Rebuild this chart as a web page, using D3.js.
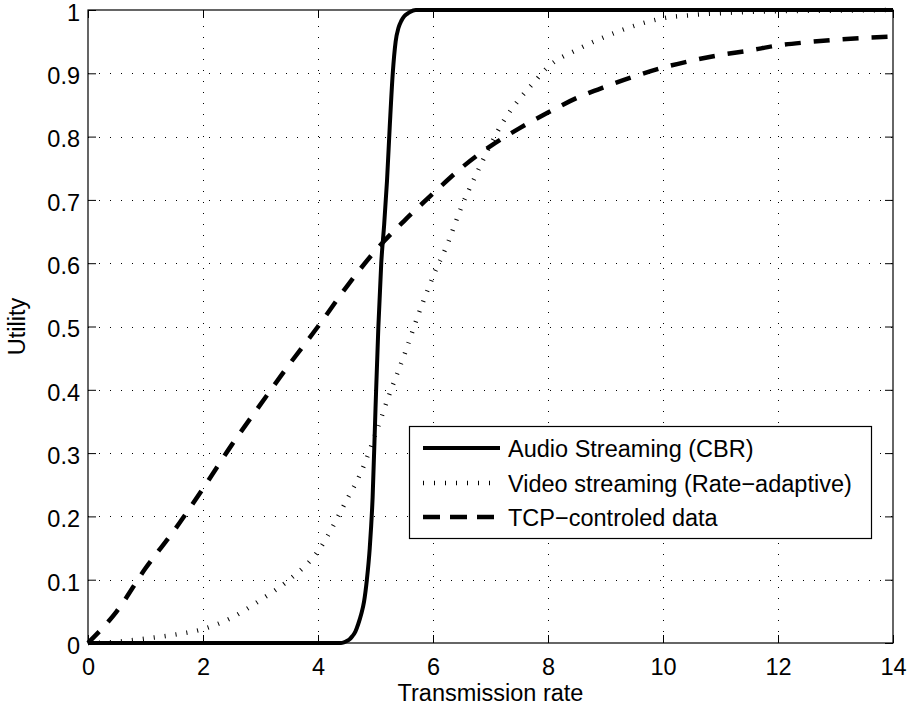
<!DOCTYPE html>
<html><head><meta charset="utf-8">
<script src="https://cdn.jsdelivr.net/npm/d3@7"></script>
<style>
body{margin:0;background:#fff;}
text{font-family:"Liberation Sans",Arial,Helvetica,sans-serif;fill:#000;}
</style></head>
<body>
<svg id="chart" width="910" height="711"></svg>
<script>
// ---- data ----
const audioX = [0, 4.4, 4.45, 4.5, 4.55, 4.6, 4.65, 4.7, 4.75, 4.8, 4.85, 4.9, 4.95, 5.0, 5.05, 5.1, 5.15, 5.2, 5.25, 5.3, 5.35, 5.4, 5.45, 5.5, 5.55, 5.6, 5.7, 14];
const audioY = [0, 0, 0.001, 0.003, 0.006, 0.011, 0.018, 0.03, 0.045, 0.065, 0.1, 0.15, 0.23, 0.37, 0.5, 0.6, 0.66, 0.73, 0.82, 0.9, 0.95, 0.972, 0.983, 0.99, 0.994, 0.997, 1.0, 1.0];

const videoX = [0, 0.5, 1, 1.5, 2, 2.5, 3, 3.5, 4, 4.5, 4.75, 5, 5.25, 5.5, 5.75, 6, 6.25, 6.5, 6.75, 7, 7.25, 7.5, 7.75, 8, 8.5, 9, 9.5, 10, 10.5, 11, 12, 13, 14];
const videoY = [0, 0.002, 0.007, 0.013, 0.022, 0.04, 0.068, 0.1, 0.145, 0.226, 0.27, 0.33, 0.395, 0.455, 0.52, 0.579, 0.63, 0.69, 0.74, 0.787, 0.828, 0.859, 0.885, 0.91, 0.937, 0.958, 0.975, 0.987, 0.992, 0.995, 0.998, 0.999, 1.0];

const tcpX = [0, 0.5, 1, 1.5, 2, 2.5, 3, 3.5, 4, 4.5, 5, 5.5, 6, 6.5, 7, 7.5, 8, 8.5, 9, 9.5, 10, 10.5, 11, 11.5, 12, 12.5, 13, 13.5, 14];
const tcpY = [0, 0.05, 0.118, 0.178, 0.244, 0.313, 0.377, 0.44, 0.5, 0.563, 0.62, 0.667, 0.71, 0.751, 0.785, 0.813, 0.838, 0.861, 0.879, 0.895, 0.909, 0.92, 0.929, 0.936, 0.944, 0.949, 0.953, 0.956, 0.958];

const xTicks = [0, 2, 4, 6, 8, 10, 12, 14];
const yTicks = [0, 0.1, 0.2, 0.3, 0.4, 0.5, 0.6, 0.7, 0.8, 0.9, 1];
const yTickLabels = ["0", "0.1", "0.2", "0.3", "0.4", "0.5", "0.6", "0.7", "0.8", "0.9", "1"];
const seriesNames = ["Audio Streaming (CBR)", "Video streaming (Rate\u2212adaptive)", "TCP\u2212controled data"];
const xLabel = "Transmission rate";
const yLabel = "Utility";

// ---- layout ----
const L = 88, R = 893, T = 10, B = 643;
const FS = 23.5;
const svg = d3.select("#chart");
const x = d3.scaleLinear().domain([0, 14]).range([L, R]);
const y = d3.scaleLinear().domain([0, 1]).range([B, T]);

const styles = [
  {w: 4, dash: null},
  {w: 4.5, dash: "1,10"},
  {w: 4.5, dash: "16,13"}
];

// grid
const grid = svg.append("g").attr("stroke", "#000").attr("stroke-width", 1).attr("stroke-dasharray", "1,10");
grid.selectAll("line.gx").data(xTicks.slice(1, -1)).join("line")
  .attr("x1", d => x(d) + 0.5).attr("x2", d => x(d) + 0.5).attr("y1", B).attr("y2", T);
grid.selectAll("line.gy").data(yTicks.slice(1, -1)).join("line")
  .attr("y1", d => Math.round(y(d)) + 0.5).attr("y2", d => Math.round(y(d)) + 0.5).attr("x1", L).attr("x2", R);

// axes with inward ticks
const tk = 8;
const axB = svg.append("g").attr("transform", `translate(0,${B})`)
  .call(d3.axisBottom(x).tickValues(xTicks).tickSize(-tk).tickPadding(15).tickFormat(d3.format("d")));
const axT = svg.append("g").attr("transform", `translate(0,${T})`)
  .call(d3.axisTop(x).tickValues(xTicks).tickSize(-tk).tickFormat(""));
const axL = svg.append("g").attr("transform", `translate(${L},0)`)
  .call(d3.axisLeft(y).tickValues(yTicks).tickSize(-tk).tickPadding(8).tickFormat((d, i) => yTickLabels[i]));
const axRt = svg.append("g").attr("transform", `translate(${R},0)`)
  .call(d3.axisRight(y).tickValues(yTicks).tickSize(-tk).tickFormat(""));
[axB, axT, axL, axRt].forEach(a => {
  a.select(".domain").remove();
  a.selectAll(".tick line").attr("stroke", "#000").attr("stroke-width", 1);
  a.selectAll("text").attr("font-size", FS).attr("font-family", "Liberation Sans, Arial, sans-serif").attr("fill", "#000");
});
axL.selectAll("text").attr("dy", "0.44em");

// series
const line = d3.line().x(d => x(d[0])).y(d => y(d[1])).curve(d3.curveMonotoneX);
const series = [
  d3.zip(audioX, audioY),
  d3.zip(videoX, videoY),
  d3.zip(tcpX, tcpY)
];
series.forEach((s, i) => {
  svg.append("path").datum(s).attr("d", line)
    .attr("fill", "none").attr("stroke", "#000")
    .attr("stroke-width", styles[i].w)
    .attr("stroke-dasharray", styles[i].dash)
    .attr("stroke-linecap", "butt").attr("stroke-linejoin", "round");
});

// box
svg.append("rect").attr("x", L).attr("y", T).attr("width", R - L).attr("height", B - T)
  .attr("fill", "none").attr("stroke", "#000").attr("stroke-width", 1.2);

// axis labels
svg.append("text").attr("x", (L + R) / 2).attr("y", 701).attr("text-anchor", "middle")
  .attr("font-size", FS).text(xLabel);
svg.append("text").attr("transform", `translate(25,${(T + B) / 2}) rotate(-90)`).attr("text-anchor", "middle")
  .attr("font-size", FS).text(yLabel);

// legend
const lg = svg.append("g");
lg.append("rect").attr("x", 409.5).attr("y", 426.5).attr("width", 462).attr("height", 112)
  .attr("fill", "#fff").attr("stroke", "#000").attr("stroke-width", 1.2);
const rowY = [448, 483, 517];
seriesNames.forEach((n, i) => {
  lg.append("line").attr("x1", 423).attr("x2", 500).attr("y1", rowY[i]).attr("y2", rowY[i])
    .attr("stroke", "#000").attr("stroke-width", styles[i].w)
    .attr("stroke-dasharray", i === 2 ? "17,10" : styles[i].dash);
  lg.append("text").attr("x", 508).attr("y", rowY[i] + 8.5).attr("font-size", FS).text(n);
});
</script>
</body></html>
